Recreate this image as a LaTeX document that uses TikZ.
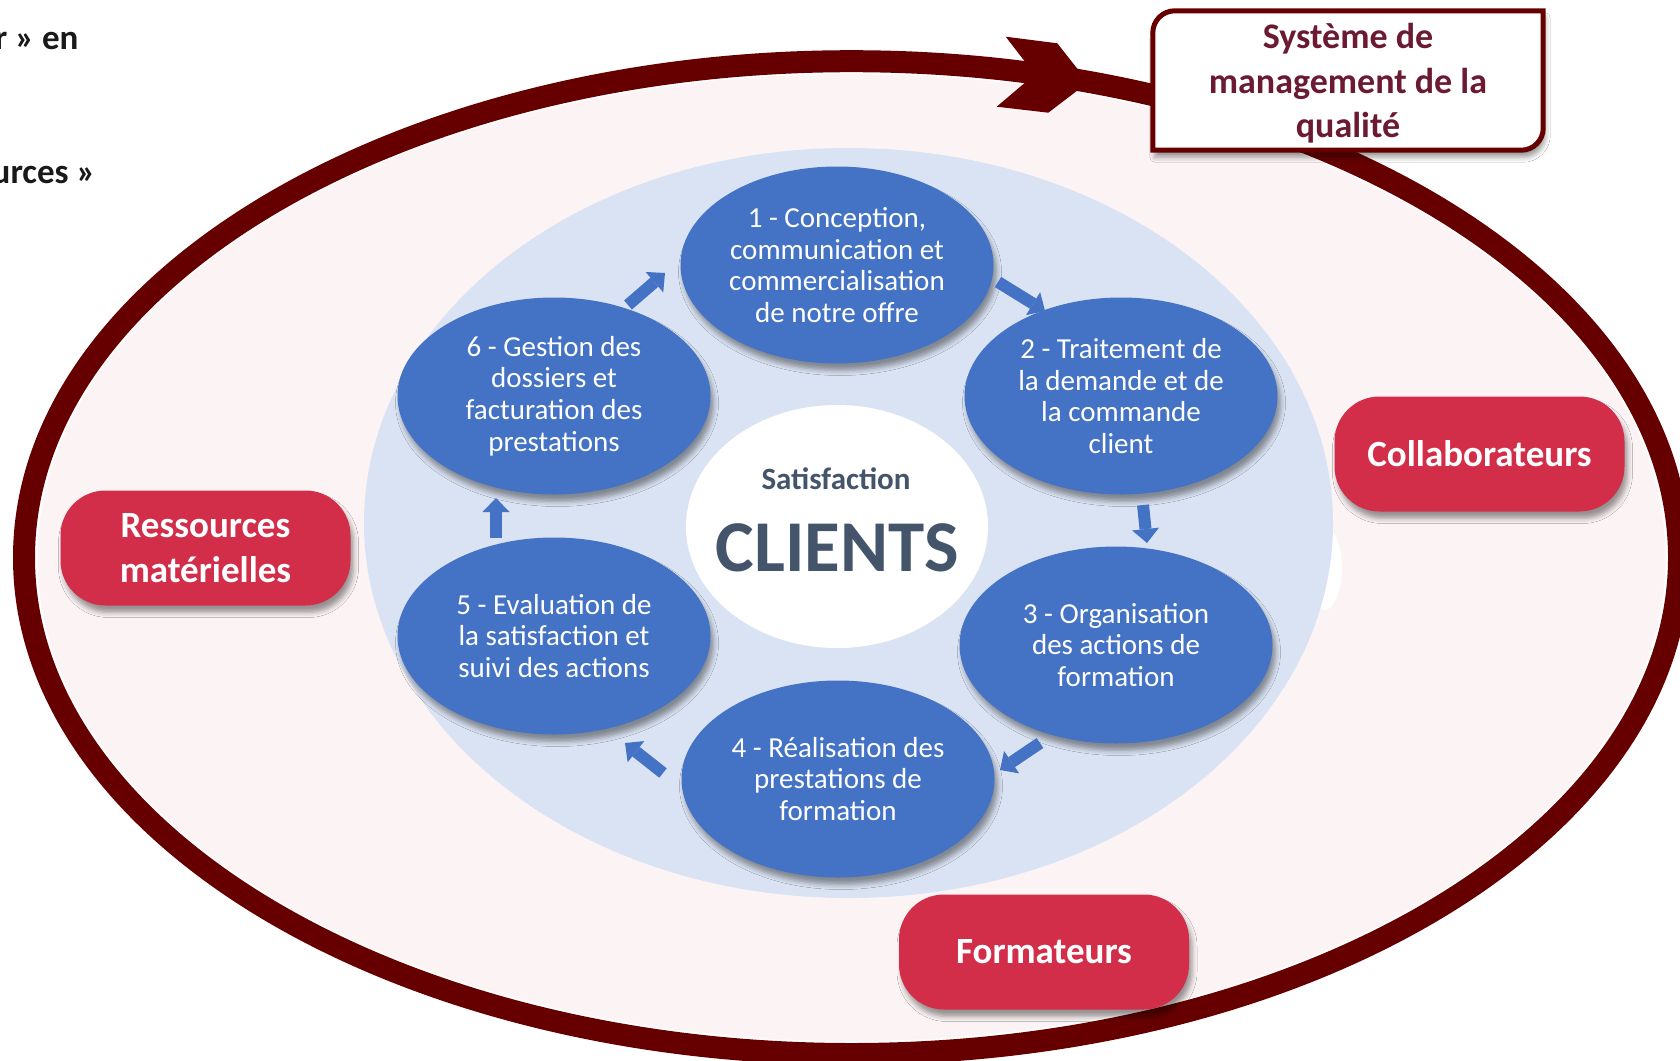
\documentclass[tikz,border=0pt]{standalone}
\usepackage{fontspec}
\setmainfont{Carlito}
\usetikzlibrary{shapes.geometric,shadows.blur,calc,arrows.meta}
\definecolor{ringred}{RGB}{102,0,0}
\definecolor{pinkfill}{RGB}{252,243,244}
\definecolor{paleblue}{RGB}{218,227,243}
\definecolor{procblue}{RGB}{68,114,196}
\definecolor{pillred}{RGB}{210,46,74}
\definecolor{titletext}{RGB}{107,26,50}
\definecolor{slate}{RGB}{68,84,106}
\tikzset{
  softshadow/.style={blur shadow={shadow xshift=3pt,shadow yshift=-7pt,shadow blur radius=5pt,shadow opacity=40}},
  proc/.style={ellipse, fill=procblue, minimum width=313pt, minimum height=197pt, inner sep=0pt,
    text=white, align=center, font=\fontsize{29pt}{31.6pt}\selectfont, softshadow},
  pill/.style={rectangle, rounded corners=45pt, fill=pillred, minimum width=290pt, minimum height=115pt,
    inner sep=0pt, text=white, align=center, font=\bfseries\fontsize{37pt}{45pt}\selectfont, softshadow},
  flow/.style={draw=procblue, line width=12pt, -{Triangle[width=27pt,length=14pt,line width=0pt]}},
  frame/.style={draw=ringred, line width=5pt, fill=white, line join=miter,
    blur shadow={shadow xshift=2pt,shadow yshift=-7pt,shadow blur radius=5pt,shadow opacity=40}},
  cornertext/.style={anchor=base east, font=\bfseries\fontsize{35pt}{42pt}\selectfont, text=black!90}
}
\begin{document}
\begin{tikzpicture}[x=1pt,y=-1pt]
\useasboundingbox (0,0) rectangle (1680,1060);
\clip (0,0) rectangle (1680,1060);
\fill[white] (0,0) rectangle (1680,1060);

% outer quality-system ellipse
\fill[white] (851.5,557.6) ellipse [x radius=817, y radius=486.5];
\fill[pinkfill] (851.5,557.6) ellipse [x radius=814, y radius=483.5];
\draw[ringred, line width=22pt] (851.5,557.6) ellipse [x radius=827.5, y radius=496.4];
\fill[ringred] (1005.7,36.7) -- (1057.3,43.3) -- (1078.3,70) -- (1076.7,91) -- (1048.3,112.7)
  -- (996.7,106.7) -- (1024.3,83.3) -- (1025,61.7) -- cycle;

% title box
\node[minimum width=390pt, minimum height=139pt, inner sep=0pt] (titlebox) at (1348,80.5) {};
\draw[frame] (titlebox.south west) -- ($(titlebox.north west)+(0,22)$)
  arc[start angle=180, end angle=270, radius=22] -- (titlebox.north east)
  -- ($(titlebox.south east)+(0,-22)$) arc[start angle=0, end angle=90, radius=22] -- cycle;
\node[font=\bfseries\fontsize{36pt}{44.5pt}\selectfont, text=titletext, align=center, inner sep=0pt]
  (title) at ($(titlebox.center)+(0,3)$) {Système de\\management de la\\qualité};

% light blue process area
\fill[white] (1324,568) ellipse [x radius=18, y radius=42];
\fill[paleblue] (848.5,523) ellipse [x radius=484.5, y radius=375];

% centre
\node[ellipse, fill=white, minimum width=302pt, minimum height=243pt, inner sep=0pt] (centre) at (837,526.5) {};
\node[anchor=base, font=\bfseries\fontsize{31pt}{37pt}\selectfont, text=slate] (sat) at (836,489) {Satisfaction};
\node[anchor=base, font=\bfseries\fontsize{73pt}{88pt}\selectfont, text=slate] (clients) at (837,571) {CLIENTS};

% process steps
\node[proc] (e1) at (837,265) {1 - Conception,\\communication et\\commercialisation\\de notre offre};
\node[proc] (e2) at (1121,396) {2 - Traitement de\\la demande et de\\la commande\\client};
\node[proc] (e3) at (1116,645) {3 - Organisation\\des actions de\\formation};
\node[proc] (e4) at (838,779) {4 - Réalisation des\\prestations de\\formation};
\node[proc] (e5) at (554,636) {5 - Evaluation de\\la satisfaction et\\suivi des actions};
\node[proc] (e6) at (554,396) {6 - Gestion des\\dossiers et\\facturation des\\prestations};

% cycle arrows
\draw[flow] ($(e6)+(74,-91)$) -- ($(e1)+(-172,8)$);
\draw[flow] ($(e1)+(161,17)$) -- ($(e2)+(-76,-85)$);
\draw[flow] ($(e2)+(22,109)$) -- ($(e3)+(31,-102)$);
\draw[flow] ($(e3)+(-76,98)$) -- ($(e4)+(162,-9)$);
\draw[flow] ($(e4)+(-175,-6)$) -- ($(e5)+(71,107)$);
\draw[flow] ($(e5)+(-58,-98)$) -- ($(e6)+(-58,102)$);

% resources
\node[pill] (res) at (205.5,548) {Ressources\\matérielles};
\node[pill] (col) at (1479.5,454) {Collaborateurs};
\node[pill] (form) at (1044,952) {Formateurs};

% cut-off text at top left
\node[cornertext] (t1) at (82,49) {r » en};
\node[cornertext] (t2) at (99,183) {urces »};
\end{tikzpicture}
\end{document}
